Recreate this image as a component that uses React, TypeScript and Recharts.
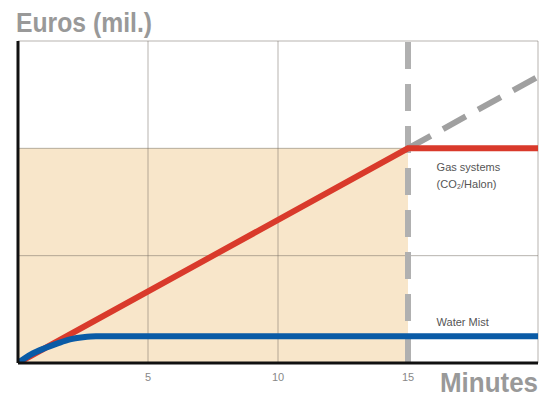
import React from "react";
import {
  ComposedChart,
  Line,
  XAxis,
  YAxis,
  ReferenceArea,
  ReferenceLine,
  ReferenceDot,
} from "recharts";

const xTicks = [5, 10, 15];
const gridX = [5, 10, 20];
const gridY = [1, 2, 3];

const gasSystems = [
  { x: 0, y: 0 },
  { x: 15, y: 2 },
  { x: 20, y: 2 },
];

const gasProjection = [
  { x: 15, y: 2 },
  { x: 20, y: 2.667 },
];

const waterMist = [
  { x: 0, y: 0 },
  { x: 0.5, y: 0.08 },
  { x: 1, y: 0.135 },
  { x: 1.5, y: 0.18 },
  { x: 2, y: 0.22 },
  { x: 2.5, y: 0.24 },
  { x: 3, y: 0.25 },
  { x: 20, y: 0.25 },
];

const labels = [
  { x: 16.1, y: 1.83, text: "Gas systems" },
  { x: 16.1, y: 1.67, text: "(CO₂/Halon)" },
  { x: 16.1, y: 0.38, text: "Water Mist" },
];

const yTitle = "Euros (mil.)";
const xTitle = "Minutes";

const TextLabel = (props: any) => {
  const { viewBox, value } = props;
  const cx = viewBox.x + viewBox.width / 2;
  const cy = viewBox.y + viewBox.height / 2;
  return (
    <text
      x={cx}
      y={cy}
      dy={4}
      fill="#555"
      fontSize={11}
      fontFamily="Liberation Sans, Arial, sans-serif"
      textAnchor="start"
    >
      {value}
    </text>
  );
};

export default function App() {
  return (
    <div style={{ position: "absolute", left: 0, top: 0, width: 548, height: 400, background: "#fff" }}>
      <ComposedChart
        width={548}
        height={400}
        margin={{ top: 41, right: 10, bottom: 7, left: 18 }}
      >
        <XAxis
          type="number"
          dataKey="x"
          domain={[0, 20]}
          ticks={xTicks}
          axisLine={false}
          tickLine={false}
          height={30}
          tick={{ fill: "#888", fontSize: 11, fontFamily: "Liberation Sans, Arial, sans-serif" }}
          tickMargin={4}
          allowDataOverflow
        />
        <YAxis type="number" dataKey="y" domain={[0, 3]} hide allowDataOverflow />
        <ReferenceArea x1={0} x2={15} y1={0} y2={2} fill="#F8E6CA" fillOpacity={1} stroke="none" />
        {gridX.map((v) => (
          <ReferenceLine key={"gx" + v} x={v} stroke="#6f6a60" strokeOpacity={0.5} strokeWidth={1} />
        ))}
        {gridY.map((v) => (
          <ReferenceLine key={"gy" + v} y={v} stroke="#6f6a60" strokeOpacity={0.5} strokeWidth={1} />
        ))}
        <ReferenceLine x={15} stroke="#B0B0B0" strokeWidth={6} strokeDasharray="27 15" />
        <Line
          data={gasProjection}
          dataKey="y"
          type="linear"
          stroke="#A0A0A0"
          strokeWidth={6}
          strokeDasharray="26 14"
          dot={false}
          isAnimationActive={false}
        />
        <Line
          data={gasSystems}
          dataKey="y"
          type="linear"
          stroke="#D93A2B"
          strokeWidth={6}
          strokeLinecap="round"
          dot={false}
          isAnimationActive={false}
        />
        <Line
          data={waterMist}
          dataKey="y"
          type="monotone"
          stroke="#0A5BA6"
          strokeWidth={6}
          strokeLinecap="round"
          dot={false}
          isAnimationActive={false}
        />
        <ReferenceLine x={0} stroke="#111" strokeWidth={3} />
        <ReferenceLine y={0} stroke="#111" strokeWidth={3} />
        {labels.map((l) => (
          <ReferenceDot
            key={l.text}
            x={l.x}
            y={l.y}
            r={0}
            fill="none"
            stroke="none"
            label={<TextLabel value={l.text} />}
          />
        ))}
      </ComposedChart>
      <svg
        width={548}
        height={400}
        style={{ position: "absolute", left: 0, top: 0, pointerEvents: "none" }}
      >
        <text
          x={16}
          y={32}
          fontFamily="'Liberation Sans', Arial, sans-serif"
          fontWeight="bold"
          fontSize={28}
          fill="#999"
          textLength={136}
          lengthAdjust="spacingAndGlyphs"
        >
          {yTitle}
        </text>
        <text
          x={440}
          y={392}
          fontFamily="'Liberation Sans', Arial, sans-serif"
          fontWeight="bold"
          fontSize={28}
          fill="#999"
          textLength={98}
          lengthAdjust="spacingAndGlyphs"
        >
          {xTitle}
        </text>
      </svg>
    </div>
  );
}
